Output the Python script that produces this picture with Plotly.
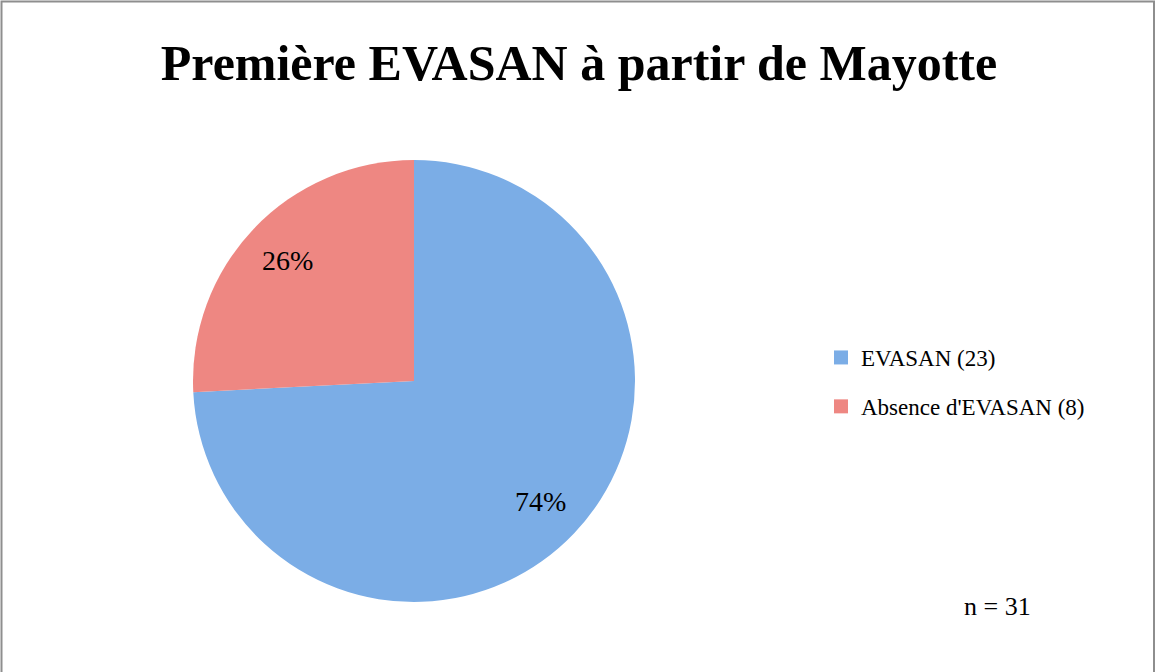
import math
import plotly.graph_objects as go

title = "Première EVASAN à partir de Mayotte"
labels = ["EVASAN (23)", "Absence d'EVASAN (8)"]
counts = [23, 8]
colors = ["#7BADE6", "#EE8782"]
legend_colors = ["#7BADE6", "#EE8782"]
note = "n = 31"

W, H = 1157, 672
cx, cy, r = 414, 381, 221

fig = go.Figure()
fig.add_trace(go.Pie(
    labels=labels, values=counts, sort=False, direction="clockwise", rotation=0,
    marker=dict(colors=colors, line=dict(width=0)),
    textinfo="none",
    domain=dict(x=[(cx - r) / W, (cx + r) / W], y=[(H - cy - r) / H, (H - cy + r) / H]),
    showlegend=False, hoverinfo="label+value+percent",
))
for lab, col in zip(labels, legend_colors):
    fig.add_trace(go.Scatter(
        x=[None], y=[None], mode="markers", name=lab, legendgroup=lab,
        marker=dict(symbol="square", size=14, color=col), showlegend=True,
    ))

# percent labels placed along each slice's mid-angle
total = sum(counts)
annotations = []
cum = 0
for v in counts:
    mid = (cum + v / 2) / total * 2 * math.pi
    cum += v
    rr = 0.79 * r
    px = cx + rr * math.sin(mid)
    py = cy - rr * math.cos(mid)
    annotations.append(dict(text=f"{round(100 * v / total)}%", x=px / W, y=1 - py / H,
                            xref="paper", yref="paper", showarrow=False,
                            xanchor="center", yanchor="middle",
                            font=dict(family="Liberation Serif", size=28, color="black")))
annotations.append(dict(text=note, x=997 / W, y=1 - 606 / H, xref="paper", yref="paper",
                        xanchor="center", yanchor="middle", showarrow=False,
                        font=dict(family="Liberation Serif", size=26, color="black")))

fig.update_layout(
    width=W, height=H, margin=dict(l=0, r=0, t=0, b=0),
    paper_bgcolor="white", plot_bgcolor="white",
    xaxis=dict(visible=False), yaxis=dict(visible=False),
    title=dict(text="<b>" + title + "</b>", x=579 / W, xanchor="center", y=1 - 62 / H, yanchor="middle",
               font=dict(family="Liberation Serif", size=50, color="black")),
    legend=dict(x=821 / W, y=1 - 336 / H, xanchor="left", yanchor="top",
                font=dict(family="Liberation Serif", size=23, color="black"),
                tracegroupgap=16, itemsizing="trace", bgcolor="rgba(0,0,0,0)"),
    annotations=annotations,
    shapes=[dict(type="rect", xref="paper", yref="paper", x0=1.5 / W, x1=1 - 3 / W, y0=-0.01, y1=1 - 1.5 / H,
                 line=dict(color="#8E8E8E", width=2), fillcolor="rgba(0,0,0,0)")],
)
fig.write_html("out.html", config={"displayModeBar": False},
               post_script="document.body.style.margin='0';")
